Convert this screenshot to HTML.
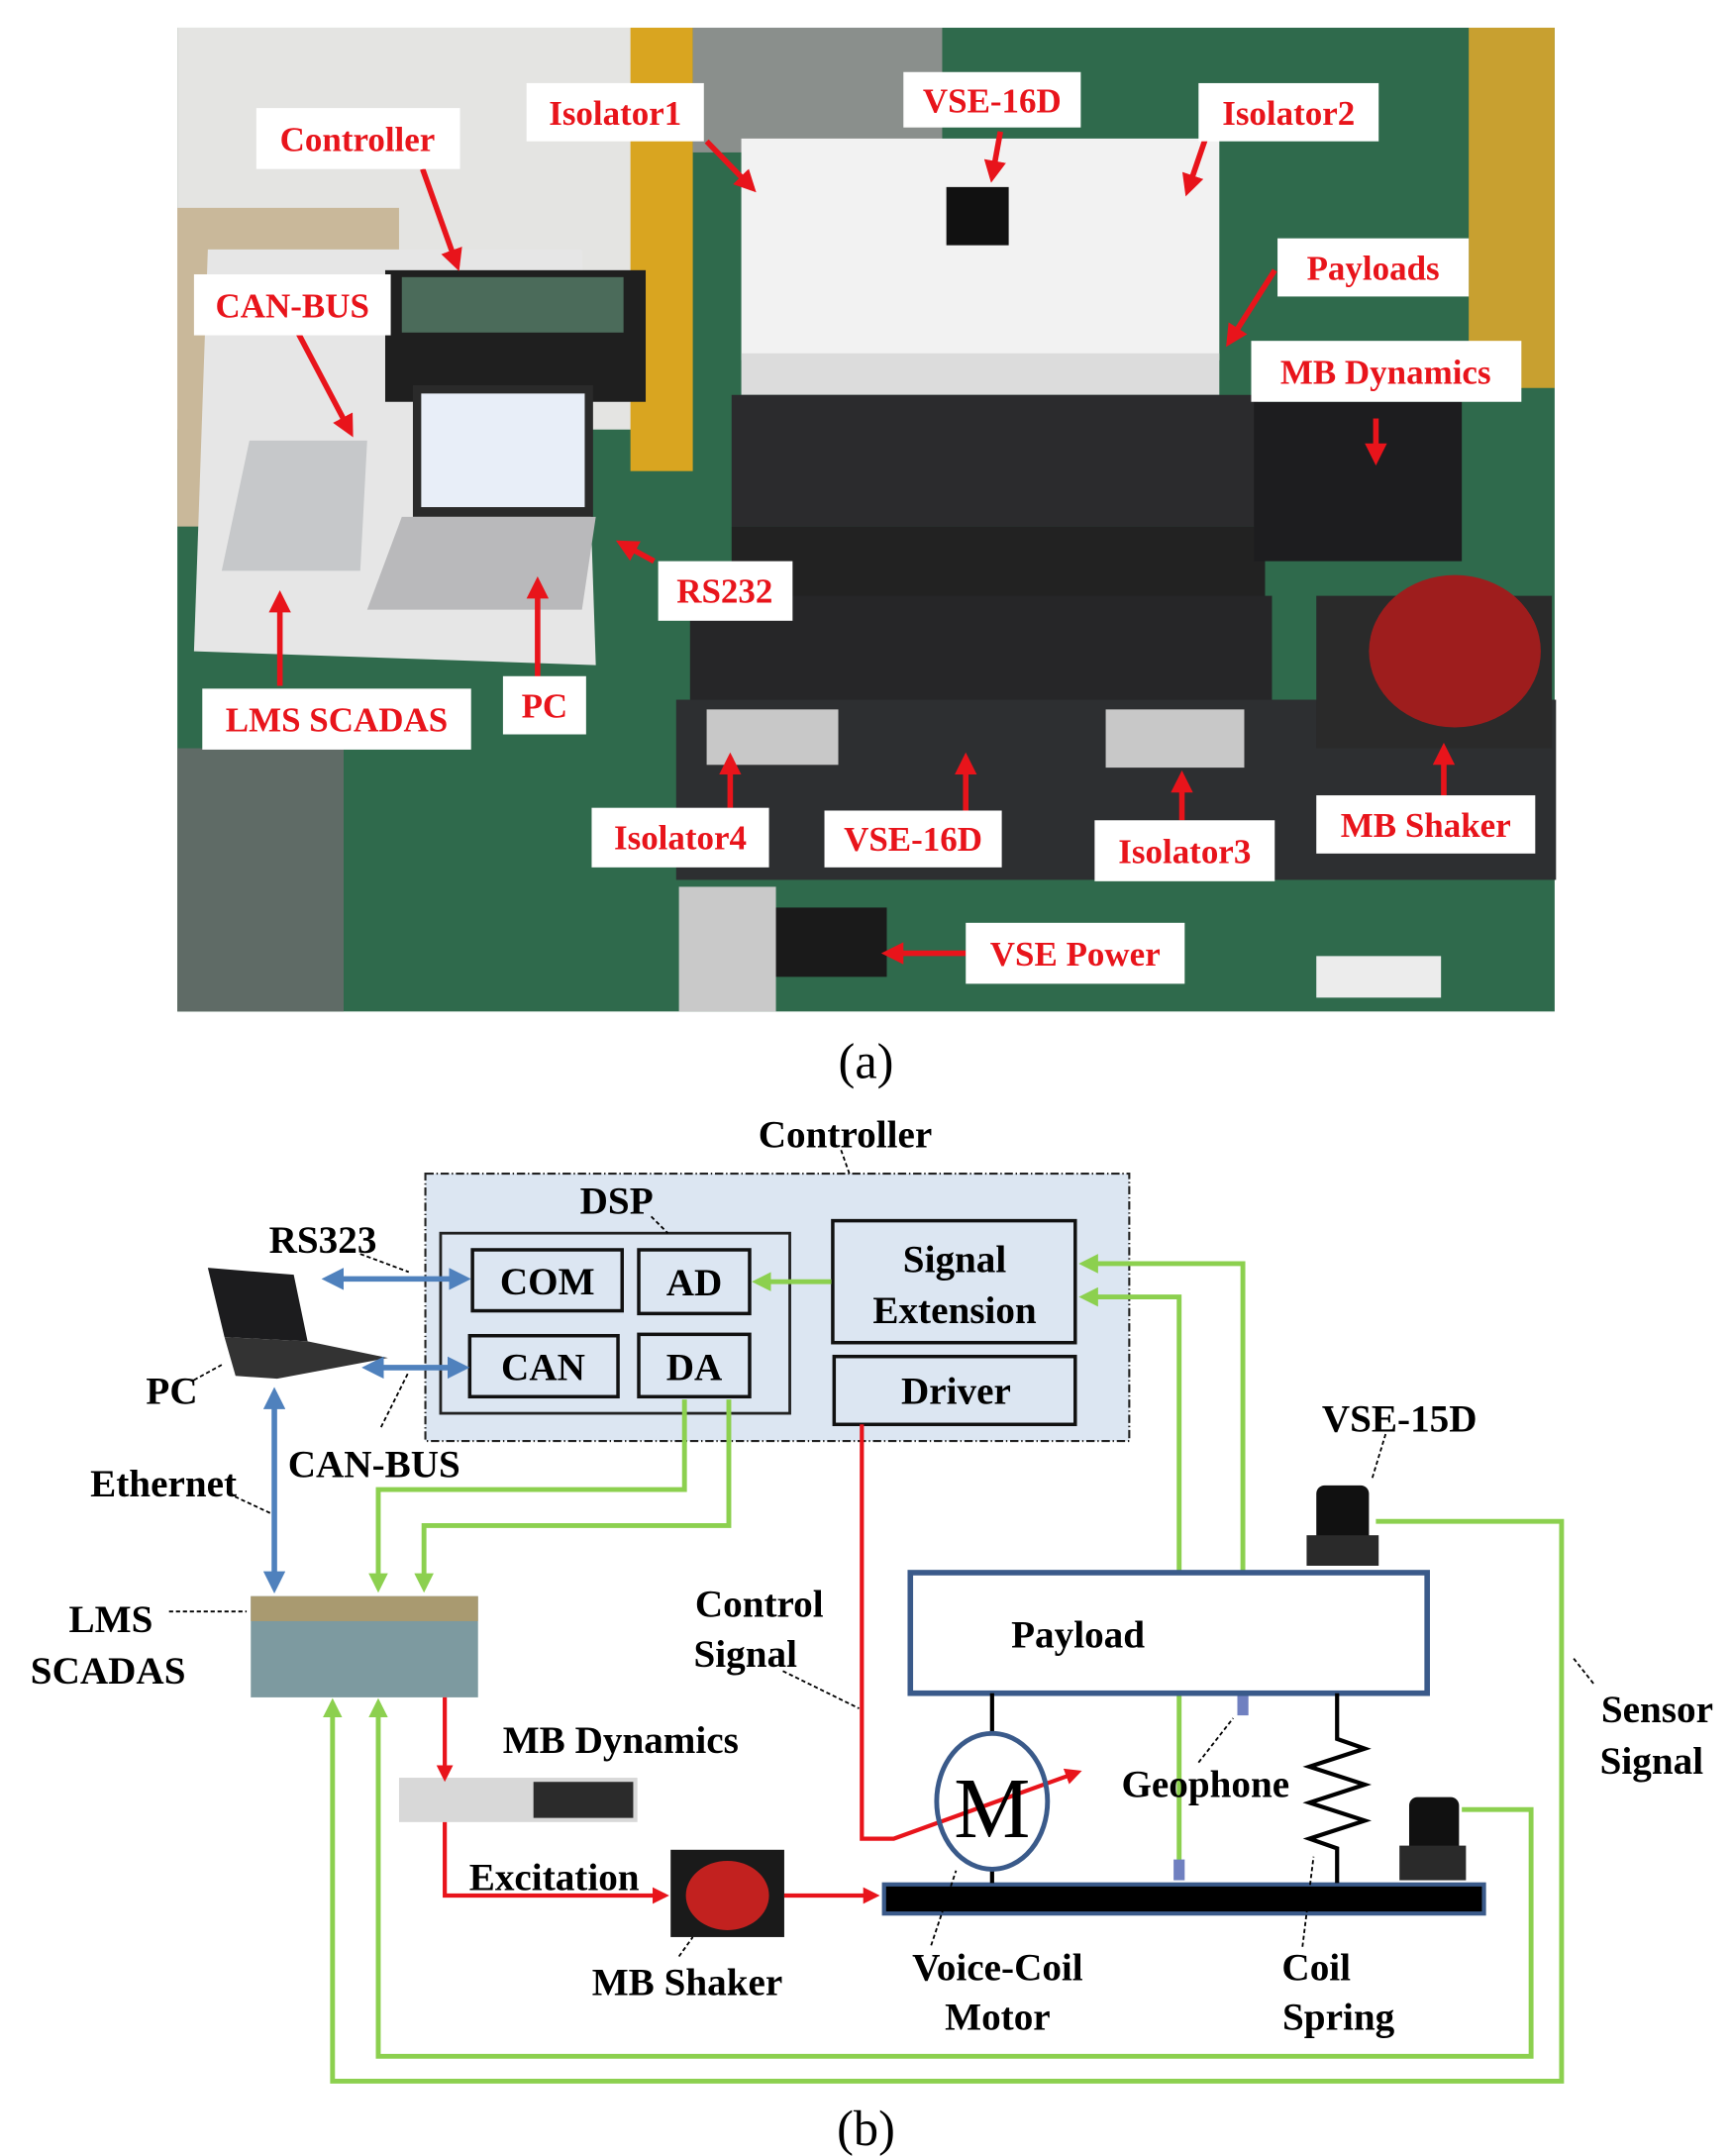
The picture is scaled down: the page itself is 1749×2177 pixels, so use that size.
<!DOCTYPE html>
<html><head><meta charset="utf-8"><style>
html,body{margin:0;padding:0;background:#fff;}
svg{display:block;}
.lab{font-family:"Liberation Serif",serif;font-weight:bold;fill:#e8141b;font-size:25px;text-anchor:middle;}
.t{font-family:"Liberation Serif",serif;font-weight:bold;fill:#000;font-size:28px;text-anchor:middle;}
</style></head><body>
<svg width="1749" height="2177" viewBox="0 0 1250 1556" preserveAspectRatio="none" xmlns="http://www.w3.org/2000/svg">
<defs>
<marker id="ar" markerWidth="4" markerHeight="4" refX="3" refY="2" orient="auto" markerUnits="strokeWidth"><path d="M0,0 L4,2 L0,4z" fill="#e8141b"/></marker>
<marker id="ag" markerWidth="4" markerHeight="4" refX="3" refY="2" orient="auto" markerUnits="strokeWidth"><path d="M0,0 L4,2 L0,4z" fill="#8cd04f"/></marker>
<marker id="ab" markerWidth="4" markerHeight="4" refX="3" refY="2" orient="auto-start-reverse" markerUnits="strokeWidth"><path d="M0,0 L4,2 L0,4z" fill="#4f81bd"/></marker>
</defs>
<!-- PHOTO -->
<rect x="128" y="20" width="994" height="710" fill="#2f6a4c"/>
<rect x="128" y="20" width="330" height="290" fill="#e4e4e2"/>
<rect x="128" y="150" width="160" height="230" fill="#c9b89a"/>
<rect x="455" y="20" width="45" height="320" fill="#d9a520"/>
<rect x="500" y="20" width="180" height="90" fill="#8a8f8c"/>
<rect x="1060" y="20" width="62" height="260" fill="#c8a030"/>
<rect x="128" y="540" width="120" height="190" fill="#5f6b66"/>
<path d="M150,180 L420,180 L430,480 L140,470z" fill="#e6e6e6"/>
<rect x="278" y="195" width="188" height="95" fill="#1f1f1f"/>
<rect x="290" y="200" width="160" height="40" fill="#4b6b5a"/>
<rect x="298" y="278" width="130" height="95" fill="#2a2a2a"/>
<rect x="304" y="284" width="118" height="82" fill="#e8eef8"/>
<path d="M290,373 L430,373 L420,440 L265,440z" fill="#b9b9bb"/>
<path d="M180,318 L265,318 L260,412 L160,412z" fill="#c6c8ca"/>
<rect x="535" y="100" width="345" height="160" fill="#f2f2f2"/>
<rect x="535" y="255" width="345" height="30" fill="#dcdcdc"/>
<rect x="528" y="285" width="380" height="95" fill="#2b2b2d"/>
<rect x="528" y="380" width="385" height="55" fill="#222"/>
<rect x="498" y="430" width="420" height="80" fill="#262628"/>
<rect x="488" y="505" width="635" height="130" fill="#2d2f31"/>
<rect x="510" y="512" width="95" height="40" fill="#c8c8c8"/>
<rect x="798" y="512" width="100" height="42" fill="#c8c8c8"/>
<rect x="905" y="290" width="150" height="115" fill="#1d1d1f"/>
<rect x="950" y="430" width="170" height="110" fill="#2a2a2a"/>
<ellipse cx="1050" cy="470" rx="62" ry="55" fill="#9e1d1d"/>
<rect x="683" y="135" width="45" height="42" fill="#111"/>
<rect x="555" y="655" width="85" height="50" fill="#1a1a1a"/>
<rect x="490" y="640" width="70" height="90" fill="#c9c9c9"/>
<rect x="950" y="690" width="90" height="30" fill="#ececec"/>
<!-- labels -->
<g stroke="#e8141b" stroke-width="4" fill="none" marker-end="url(#ar)">
<line x1="305" y1="122" x2="330" y2="192"/><line x1="510" y1="102" x2="543" y2="136"/>
<line x1="722" y1="95" x2="716" y2="128"/><line x1="870" y1="100" x2="857" y2="138"/>
<line x1="920" y1="195" x2="887" y2="247"/><line x1="993" y1="302" x2="993" y2="332"/>
<line x1="215" y1="240" x2="253" y2="312"/><line x1="472" y1="405" x2="448" y2="392"/>
<line x1="202" y1="495" x2="202" y2="430"/><line x1="388" y1="490" x2="388" y2="420"/>
<line x1="527" y1="583" x2="527" y2="547"/><line x1="697" y1="585" x2="697" y2="547"/>
<line x1="853" y1="592" x2="853" y2="560"/><line x1="1042" y1="574" x2="1042" y2="540"/>
<line x1="697" y1="688" x2="640" y2="688"/>
</g>
<g fill="#fff">
<rect x="185" y="78" width="147" height="44"/><rect x="380" y="60" width="128" height="42"/>
<rect x="652" y="52" width="128" height="40"/><rect x="865" y="60" width="130" height="42"/>
<rect x="922" y="172" width="138" height="42"/><rect x="903" y="246" width="195" height="44"/>
<rect x="140" y="198" width="142" height="44"/><rect x="475" y="405" width="97" height="43"/>
<rect x="146" y="497" width="194" height="44"/><rect x="363" y="488" width="60" height="42"/>
<rect x="427" y="583" width="128" height="43"/><rect x="595" y="585" width="128" height="41"/>
<rect x="790" y="592" width="130" height="44"/><rect x="950" y="574" width="158" height="42"/>
<rect x="697" y="666" width="158" height="44"/>
</g>
<text class="lab" x="258" y="109">Controller</text><text class="lab" x="444" y="90">Isolator1</text>
<text class="lab" x="716" y="81">VSE-16D</text><text class="lab" x="930" y="90">Isolator2</text>
<text class="lab" x="991" y="202">Payloads</text><text class="lab" x="1000" y="277">MB Dynamics</text>
<text class="lab" x="211" y="229">CAN-BUS</text><text class="lab" x="523" y="435">RS232</text>
<text class="lab" x="243" y="528">LMS SCADAS</text><text class="lab" x="393" y="518">PC</text>
<text class="lab" x="491" y="613">Isolator4</text><text class="lab" x="659" y="614">VSE-16D</text>
<text class="lab" x="855" y="623">Isolator3</text><text class="lab" x="1029" y="604">MB Shaker</text>
<text class="lab" x="776" y="697">VSE Power</text>
<text x="625" y="778" font-family="Liberation Serif,serif" font-size="36" text-anchor="middle">(a)</text>

<!-- DIAGRAM b -->
<rect x="307" y="847" width="508" height="193" fill="#dce6f2" stroke="#222" stroke-width="1.5" stroke-dasharray="6,2,1,2"/>
<rect x="318" y="890" width="252" height="130" fill="none" stroke="#222" stroke-width="2"/>
<g fill="#dce6f2" stroke="#111" stroke-width="2.5">
<rect x="341" y="902" width="108" height="44"/><rect x="461" y="902" width="80" height="46"/>
<rect x="339" y="964" width="107" height="44"/><rect x="461" y="963" width="80" height="45"/>
<rect x="601" y="881" width="175" height="88"/><rect x="602" y="979" width="174" height="49"/>
</g>
<text class="t" x="610" y="828">Controller</text><text class="t" x="445" y="876">DSP</text>
<text class="t" x="395" y="934">COM</text><text class="t" x="501" y="935">AD</text>
<text class="t" x="392" y="996">CAN</text><text class="t" x="501" y="996">DA</text>
<text class="t" x="689" y="918">Signal</text><text class="t" x="689" y="955">Extension</text>
<text class="t" x="690" y="1013">Driver</text>
<!-- laptop -->
<path d="M150,915 L212,920 L222,968 L162,965z" fill="#1c1c1e"/>
<path d="M162,965 L222,968 L280,980 L200,995 L170,993z" fill="#333"/>
<!-- LMS -->
<rect x="181" y="1152" width="164" height="73" fill="#7d9aa0"/>
<rect x="181" y="1152" width="164" height="18" fill="#a99a70"/>
<!-- MB dynamics -->
<rect x="288" y="1283" width="172" height="32" fill="#d8d8d8"/><rect x="385" y="1286" width="72" height="26" fill="#2b2b2b"/>
<!-- shaker -->
<rect x="484" y="1335" width="82" height="63" fill="#1a1a1a"/><ellipse cx="525" cy="1368" rx="30" ry="25" fill="#c2211f"/>
<!-- blue -->
<g stroke="#4f81bd" stroke-width="4" fill="none" marker-end="url(#ab)" marker-start="url(#ab)">
<line x1="236" y1="923" x2="336" y2="923"/><line x1="265" y1="987" x2="335" y2="987"/>
<line x1="198" y1="1005" x2="198" y2="1146"/>
</g>
<!-- green -->
<g stroke="#8cd04f" stroke-width="3.5" fill="none" marker-end="url(#ag)">
<polyline points="600,925 546,925"/>
<polyline points="494,1010 494,1075 273,1075 273,1146"/>
<polyline points="526,1010 526,1101 306,1101 306,1146"/>
<polyline points="897,1225 897,912 782,912"/>
<polyline points="851,1345 851,936 782,936"/>
<polyline points="993,1098 1127,1098 1127,1502 240,1502 240,1229"/>
<polyline points="1055,1306 1105,1306 1105,1484 273,1484 273,1229"/>
</g>
<!-- red -->
<g stroke="#e8141b" stroke-width="3" fill="none" marker-end="url(#ar)">
<polyline points="622,1028 622,1327 645,1327 778,1279"/>
<polyline points="321,1225 321,1283"/>
<polyline points="321,1315 321,1368 480,1368"/>
<polyline points="566,1368 632,1368"/>
</g>
<!-- structure -->
<rect x="657" y="1135" width="373" height="87" fill="#fff" stroke="#3a5a8a" stroke-width="4"/>
<text class="t" x="778" y="1189">Payload</text>
<rect x="638" y="1360" width="433" height="21" fill="#000" stroke="#3a5a8a" stroke-width="3"/>
<g stroke="#000" stroke-width="3" fill="none">
<line x1="716" y1="1222" x2="716" y2="1251"/><line x1="716" y1="1350" x2="716" y2="1359"/>
<polyline points="965,1222 965,1255 985,1262 945,1275 985,1288 945,1301 985,1314 945,1327 965,1334 965,1359"/>
</g>
<ellipse cx="716" cy="1300" rx="40" ry="49" fill="none" stroke="#3a5a8a" stroke-width="3.5"/>
<text x="716" y="1326" font-family="Liberation Serif,serif" font-size="62" text-anchor="middle">M</text>
<rect x="893" y="1224" width="8" height="14" fill="#7080c0"/><rect x="847" y="1342" width="8" height="15" fill="#7080c0"/>
<!-- sensors -->
<rect x="950" y="1072" width="38" height="45" rx="6" fill="#111"/><rect x="943" y="1108" width="52" height="22" fill="#2a2a2a"/>
<rect x="1017" y="1297" width="36" height="42" rx="6" fill="#111"/><rect x="1010" y="1332" width="48" height="25" fill="#2a2a2a"/>
<!-- leaders -->
<g stroke="#000" stroke-width="1.3" stroke-dasharray="3,2" fill="none">
<line x1="607" y1="830" x2="613" y2="847"/><line x1="470" y1="878" x2="482" y2="890"/>
<line x1="260" y1="905" x2="295" y2="918"/><line x1="275" y1="1030" x2="295" y2="990"/>
<line x1="140" y1="996" x2="160" y2="985"/><line x1="165" y1="1078" x2="195" y2="1092"/>
<line x1="122" y1="1163" x2="178" y2="1163"/><line x1="565" y1="1206" x2="620" y2="1233"/>
<line x1="1000" y1="1035" x2="990" y2="1068"/><line x1="1150" y1="1215" x2="1135" y2="1196"/>
<line x1="865" y1="1272" x2="890" y2="1240"/><line x1="672" y1="1404" x2="690" y2="1350"/>
<line x1="940" y1="1405" x2="948" y2="1340"/><line x1="490" y1="1412" x2="500" y2="1398"/>
</g>
<text class="t" x="233" y="904">RS323</text><text class="t" x="124" y="1013">PC</text>
<text class="t" x="270" y="1066">CAN-BUS</text><text class="t" x="118" y="1080">Ethernet</text>
<text class="t" x="80" y="1178">LMS</text><text class="t" x="78" y="1215">SCADAS</text>
<text class="t" x="548" y="1167">Control</text><text class="t" x="538" y="1203">Signal</text>
<text class="t" x="448" y="1265">MB Dynamics</text><text class="t" x="400" y="1364">Excitation</text>
<text class="t" x="496" y="1440">MB Shaker</text><text class="t" x="870" y="1297">Geophone</text>
<text class="t" x="720" y="1429">Voice-Coil</text><text class="t" x="720" y="1465">Motor</text>
<text class="t" x="950" y="1429">Coil</text><text class="t" x="966" y="1465">Spring</text>
<text class="t" x="1010" y="1033">VSE-15D</text>
<text class="t" x="1196" y="1243">Sensor</text><text class="t" x="1192" y="1280">Signal</text>
<text x="625" y="1548" font-family="Liberation Serif,serif" font-size="36" text-anchor="middle">(b)</text>
</svg>
</body></html>
